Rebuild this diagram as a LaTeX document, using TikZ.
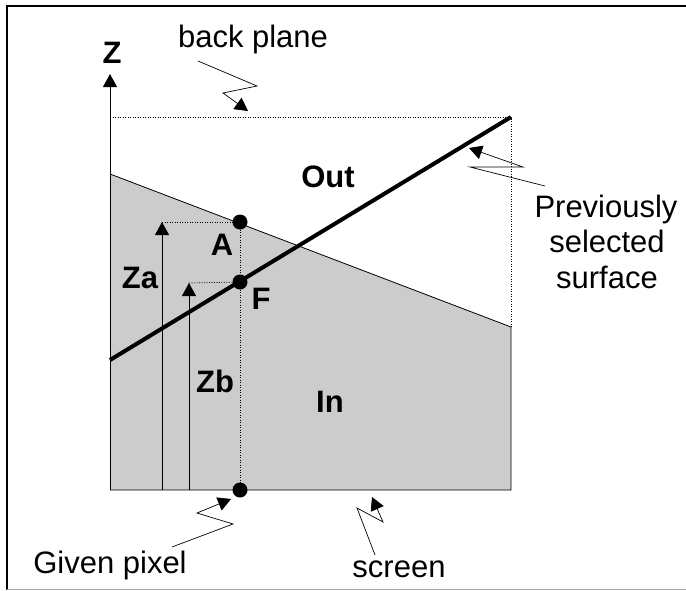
\documentclass[tikz,border=0pt]{standalone}
\usepackage{fontspec}
\setmainfont{Liberation Sans}
\usetikzlibrary{arrows.meta}
\definecolor{inshade}{gray}{0.8}

\begin{document}
\begin{tikzpicture}[x=1pt,y=-1pt,
    lbl/.style={font=\fontsize{31}{36}\selectfont,anchor=base,inner sep=0pt},
    blbl/.style={font=\fontsize{31}{36}\selectfont\bfseries,anchor=base,inner sep=0pt},
    ptdot/.style={circle,fill=black,minimum size=15pt,inner sep=0pt},
    leadtip/.style={-{Triangle[length=13pt,width=14pt]}},
    finedot/.style={dash pattern=on 1pt off 1.5pt}]
  \useasboundingbox (0,0) rectangle (686,590);
  % frame
  \draw[line width=2.5pt] (7,590) -- (7,6) -- (686,6);
  \draw[gray!70,line width=1pt] (7,589) -- (686,589);

  \coordinate (O) at (110,490);
  \coordinate (R) at (511,490);
  \coordinate (Ztip) at (110,74);
  \coordinate (GL) at (110,174);
  \coordinate (GR) at (511,327);
  \coordinate (BL) at (110,117);
  \coordinate (BR) at (511,117);
  \coordinate (S1) at (110,360);

  \fill[inshade] (O) -- (GL) -- (GR) -- (R) -- cycle;
  \draw[line width=0.8pt] (GL) -- (GR) -- (R) -- (O);
  \draw[finedot,line width=0.7pt] (BL) -- (BR) -- (GR);
  \draw[leadtip,line width=0.8pt] (O) -- (Ztip);
  \draw[line width=4pt] (S1) -- (BR);

  \node[ptdot] (dotA) at (240,222) {};
  \node[ptdot] (dotF) at (240,282) {};
  \node[ptdot] (dotP) at (240,490) {};
  \draw[finedot,line width=0.7pt] (dotA) -- (dotP);

  \coordinate (Za0) at (162,490);
  \coordinate (Za1) at (162,222);
  \coordinate (Zb0) at (189,490);
  \coordinate (Zb1) at (189,283);
  \draw[leadtip,line width=0.8pt] (Za0) -- (Za1);
  \draw[leadtip,line width=0.8pt] (Zb0) -- (Zb1);
  \draw[finedot,line width=0.7pt] (Za1) -- (dotA);
  \draw[finedot,line width=0.7pt] (Zb1) -- (dotF);

  \node[blbl] (zlbl) at (112,63) {Z};
  \node[blbl] (albl) at (222,255) {A};
  \node[blbl] (flbl) at (261,309) {F};
  \node[blbl] (zalbl) at (140,288) {Za};
  \node[blbl] (zblbl) at (215,392) {Zb};
  \node[blbl] (outlbl) at (328,187) {Out};
  \node[blbl] (inlbl) at (330,412) {In};

  \node[lbl] (back) at (253,47) {back plane};
  \node[lbl] (prev1) at (606,217) {Previously};
  \node[lbl] (prev2) at (607,252) {selected};
  \node[lbl] (prev3) at (607,288) {surface};
  \node[lbl] (pix) at (110,573) {Given pixel};
  \node[lbl] (scr) at (399,577) {screen};

  % zig-zag leaders
  \coordinate (b1) at (198,61);
  \coordinate (b2) at (257,86);
  \coordinate (b3) at (223,93);
  \coordinate (b4) at (248,111);
  \draw[leadtip,line width=0.7pt] (b1) -- (b2) -- (b3) -- (b4);
  \coordinate (p1) at (545,186);
  \coordinate (p2) at (470,167);
  \coordinate (p3) at (523,167);
  \coordinate (p4) at (469,148);
  \draw[leadtip,line width=0.7pt] (p1) -- (p2) -- (p3) -- (p4);
  \coordinate (g1) at (172,547);
  \coordinate (g2) at (233,524);
  \coordinate (g3) at (197,513);
  \coordinate (g4) at (231,499);
  \draw[leadtip,line width=0.7pt] (g1) -- (g2) -- (g3) -- (g4);
  \coordinate (s1) at (375,555);
  \coordinate (s2) at (357,508);
  \coordinate (s3) at (383,522);
  \coordinate (s4) at (372,497);
  \draw[leadtip,line width=0.7pt] (s1) -- (s2) -- (s3) -- (s4);
\end{tikzpicture}
\end{document}
